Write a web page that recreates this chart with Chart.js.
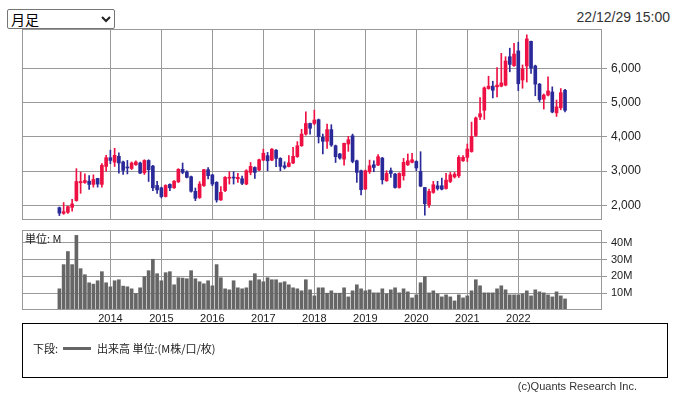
<!DOCTYPE html>
<html>
<head>
<meta charset="utf-8">
<script src="https://cdn.jsdelivr.net/npm/chart.js@4/dist/chart.umd.min.js"></script>
<style>
  body { margin: 0; width: 678px; height: 397px; background: #fff; position: relative; overflow: hidden;
         font-family: "Liberation Sans", Arial, sans-serif; color: #222; }
  #period { position: absolute; left: 7px; top: 9px; width: 108px; height: 20px; font-size: 14px; line-height: 17px;
            font-family: "Noto Sans CJK JP", sans-serif; padding: 0 3px; box-sizing: border-box;
            -webkit-appearance: none; appearance: none; border: 1px solid #767676; border-radius: 2px;
            background: #fff; color: #000; }
  #chevron { position: absolute; left: 101px; top: 16px; }
  #stamp { position: absolute; right: 8px; top: 9px; font-size: 14px; color: #333; }
  #priceBox { position: absolute; left: 22px; top: 29px; }
  #volBox { position: absolute; left: 22px; top: 230px; }
  #unit { position: absolute; left: 25px; top: 230px; font-size: 11px; font-family: "Noto Sans CJK JP", sans-serif; }
  #legend { position: absolute; left: 22px; top: 323px; width: 646px; height: 55px; border: 1px solid #000;
            box-sizing: border-box; font-size: 11px; font-family: "Noto Sans CJK JP", sans-serif; }
  #legend span { position: absolute; top: 16px; }
  #legend .swatch { position: absolute; left: 40px; top: 23px; width: 28px; height: 3px; background: #666; }
  #copy { position: absolute; right: 41px; top: 380px; font-size: 11px; color: #333; }
</style>
</head>
<body>
<select id="period"><option>月足</option></select>
<svg id="chevron" width="10" height="7"><path d="M1 1 L5 5 L9 1" fill="none" stroke="#222" stroke-width="2"/></svg>
<div id="stamp">22/12/29 15:00</div>
<div id="priceBox"><canvas id="priceChart" width="656" height="191"></canvas></div>
<div id="volBox"><canvas id="volChart" width="656" height="96"></canvas></div>
<div id="unit">単位: M</div>
<div id="legend">
  <span style="left:10px">下段:</span>
  <div class="swatch"></div>
  <span style="left:74px">出来高 単位:(M株/口/枚)</span>
</div>
<div id="copy">(c)Quants Research Inc.</div>
<script>
// monthly candles, Jan 2013 .. Dec 2022
const firstYear = 2013;
const yearLabels = ['2014', '2015', '2016', '2017', '2018', '2019', '2020', '2021', '2022'];
const priceTicks = [2000, 3000, 4000, 5000, 6000];
const volumeTicks = [10, 20, 30, 40];

const opens = [
  1930, 1765, 1795, 1940, 2137, 2657, 2665, 2705, 2610, 2785, 2610, 3135,
  3390, 3260, 3430, 3265, 3120, 3075, 3185, 3235, 2950, 3310, 3145, 2580,
  2510, 2255, 2610, 2510, 2685, 3050, 2970, 2835, 2410, 2225, 2575, 3040,
  2890, 2670, 2155, 2430, 2790, 2815, 2775, 2775, 2620, 2960, 3105, 3030,
  3320, 3450, 3320, 3610, 3370, 3155, 3135, 3235, 3420, 3740, 4080, 4390,
  4390, 4500, 3985, 3870, 4210, 3740, 3500, 3350, 3790, 4030, 3300, 3010,
  2475, 2980, 3185, 3175, 3380, 2715, 3010, 2910, 2520, 2865, 3185, 3255,
  3280, 2990, 2520, 2015, 2375, 2570, 2570, 2490, 2695, 2830, 2860, 3300,
  3400, 3570, 4040, 4580, 4775, 5410, 5480, 5460, 5480, 5510, 6340, 6080,
  6510, 5660, 6070, 6790, 6070, 5540, 5100, 5220, 5310, 4700, 4850, 5360
];
const highs = [
  1950, 2080, 1980, 2175, 3070, 2970, 2920, 2870, 2890, 2790, 3215, 3460,
  3610, 3665, 3530, 3290, 3310, 3265, 3295, 3265, 3330, 3330, 3170, 2700,
  2530, 2600, 2630, 2725, 3070, 3235, 3010, 2850, 2505, 2690, 3050, 3105,
  2900, 2690, 2545, 2835, 2980, 2980, 2930, 2850, 3040, 3250, 3125, 3350,
  3640, 3545, 3660, 3630, 3390, 3270, 3450, 3690, 3860, 4220, 4730, 4400,
  4780, 4520, 4080, 4375, 4355, 3760, 3520, 3820, 4015, 4080, 3320, 3030,
  3030, 3320, 3300, 3480, 3400, 3010, 3090, 2930, 2950, 3370, 3500, 3520,
  3300, 3565, 2520, 2475, 2700, 2700, 2795, 2930, 2960, 2960, 3450, 3450,
  3790, 4430, 4580, 5145, 5460, 5770, 5625, 6020, 6440, 6340, 6590, 6735,
  6765, 6100, 6980, 6800, 6095, 5560, 5250, 5755, 5460, 5075, 5410, 5390
];
const lows = [
  1700, 1735, 1765, 1825, 2120, 2350, 2640, 2460, 2530, 2530, 2530, 3000,
  3215, 3135, 2940, 2900, 2915, 3045, 3165, 2920, 2900, 2695, 2430, 2350,
  2215, 2240, 2430, 2490, 2665, 2920, 2800, 2380, 2135, 2200, 2550, 2770,
  2570, 2090, 2140, 2400, 2620, 2620, 2670, 2600, 2600, 2890, 2785, 3010,
  3300, 3010, 3300, 3130, 3010, 3060, 3120, 3215, 3400, 3720, 4050, 4080,
  4350, 3820, 3500, 3660, 3720, 3250, 3350, 3175, 3575, 3240, 2670, 2300,
  2455, 2930, 2980, 3160, 2620, 2700, 2815, 2500, 2500, 2735, 3160, 3240,
  3010, 2540, 1710, 1935, 2350, 2445, 2450, 2470, 2660, 2795, 2810, 3280,
  3280, 3550, 4010, 4500, 4510, 5390, 5135, 5165, 5460, 5490, 5900, 6060,
  5350, 5420, 5600, 5850, 5200, 5030, 4810, 5195, 4700, 4595, 4790, 4725
];
const closes = [
  1770, 1814, 1960, 2040, 2695, 2695, 2725, 2610, 2755, 2620, 3170, 3390,
  3310, 3460, 3235, 3020, 3090, 3235, 3265, 2940, 3310, 3040, 2510, 2450,
  2255, 2580, 2510, 2705, 3050, 2960, 2815, 2410, 2205, 2620, 3040, 2865,
  2620, 2155, 2380, 2815, 2810, 2795, 2815, 2640, 3010, 3135, 2960, 3330,
  3520, 3300, 3640, 3370, 3135, 3105, 3240, 3430, 3740, 4080, 4390, 4250,
  4490, 4005, 3870, 4210, 3760, 3420, 3380, 3810, 3915, 3280, 2960, 2455,
  3010, 3155, 3105, 3420, 2745, 2930, 2930, 2520, 2930, 3255, 3300, 3330,
  3090, 2560, 2045, 2405, 2600, 2490, 2470, 2735, 2890, 2910, 3400, 3400,
  3645, 4010, 4550, 4675, 5430, 5480, 5360, 5510, 5575, 6215, 6115, 6420,
  5550, 5990, 6860, 6010, 5540, 5085, 5220, 5340, 4725, 4875, 5290, 4775
];
// volume, millions of shares
const volumes = [
  12.6, 27, 34.8, 27, 44.4, 24.6, 21, 16.2, 15.4, 17.4, 22.8, 16.2,
  13.8, 17.4, 18, 14.2, 13.8, 12.6, 9.8, 13.2, 19.8, 23.4, 30.2, 21.6,
  17.4, 22.2, 22.8, 15, 19.2, 19, 18.6, 23.4, 18.6, 16.8, 15.6, 17.4,
  14.4, 27, 19.2, 12.6, 12, 17.4, 13.2, 12.6, 13.2, 17.4, 21.6, 18,
  16.8, 19.2, 18, 18, 16.2, 16.8, 15, 13.2, 12.6, 11.4, 18, 12,
  8.4, 13.2, 13.2, 10, 11.4, 10, 10, 13.2, 7.8, 11.4, 15, 12.6,
  11.4, 12, 10.2, 10.2, 12.6, 9.6, 12, 13.2, 10.2, 12.6, 10.8, 7.2,
  9, 16.2, 19.8, 10.2, 11.4, 9.6, 7.8, 9, 7.8, 5.4, 9, 7.2,
  8.4, 11.4, 18, 14.4, 10.2, 10.2, 10.2, 12.6, 14.4, 12, 9, 9,
  9, 9.6, 11.4, 8.4, 12, 10.8, 10.2, 9, 7.8, 10.8, 8.4, 6.6
];

const upColor = '#ee1144';
const downColor = '#2b2a99';
const gridColor = '#999';
const xMin = -8.8, xMax = 127.7;

const candleColor = ctx => closes[ctx.dataIndex] >= opens[ctx.dataIndex] ? upColor : downColor;
const idx = opens.map((_, i) => i);

const framePlugin = {
  id: 'frame',
  afterDraw(chart) {
    const { ctx, chartArea: a } = chart;
    ctx.save();
    ctx.strokeStyle = gridColor;
    ctx.lineWidth = 1;
    ctx.strokeRect(a.left + 0.5, a.top + 0.5, a.width - 1, a.height - 1);
    ctx.restore();
  }
};

function yearAxis(showLabels) {
  return {
    type: 'linear',
    min: xMin,
    max: xMax,
    offset: false,
    grid: { color: gridColor, drawTicks: false, offset: false },
    border: { display: false },
    afterBuildTicks: scale => { scale.ticks = yearLabels.map((_, k) => ({ value: 12 * (k + 1) })); },
    afterFit: scale => { scale.height = showLabels ? 16 : 0; scale.paddingLeft = 0; scale.paddingRight = 0; },
    ticks: {
      display: showLabels,
      padding: 2,
      maxRotation: 0,
      autoSkip: false,
      color: '#222',
      font: { size: 11, family: '"Liberation Sans", Arial, sans-serif' },
      callback: (v, k) => yearLabels[k]
    }
  };
}

function valueAxis(min, max, tickValues, fmt, fontSize) {
  return {
    position: 'right',
    min: min,
    max: max,
    grid: { color: gridColor, tickLength: 5, drawTicks: true },
    border: { display: false },
    afterBuildTicks: scale => { scale.ticks = tickValues.map(v => ({ value: v })); },
    afterFit: scale => { scale.width = 76; scale.paddingTop = 0; scale.paddingBottom = 0; },
    ticks: {
      padding: 4,
      color: '#222',
      font: { size: fontSize, family: '"Liberation Sans", Arial, sans-serif' },
      callback: fmt
    }
  };
}

const common = {
  responsive: false,
  maintainAspectRatio: false,
  animation: false,
  devicePixelRatio: 1,
  layout: { padding: 0 },
  plugins: { legend: { display: false }, tooltip: { enabled: false } }
};

new Chart(document.getElementById('priceChart'), {
  type: 'bar',
  data: {
    datasets: [{
      data: idx.map(i => ({ x: i, y: [lows[i], highs[i]] })),
      backgroundColor: candleColor,
      barThickness: 1,
      grouped: false
    }, {
      data: idx.map(i => ({ x: i, y: [opens[i], closes[i]] })),
      backgroundColor: candleColor,
      barThickness: 3,
      minBarLength: 1,
      grouped: false
    }]
  },
  options: Object.assign({}, common, {
    scales: {
      x: yearAxis(false),
      y: valueAxis(1570, 7150, priceTicks, v => v.toLocaleString('en-US'), 12)
    }
  }),
  plugins: [framePlugin]
});

new Chart(document.getElementById('volChart'), {
  type: 'bar',
  data: {
    datasets: [{
      data: idx.map(i => ({ x: i, y: volumes[i] })),
      backgroundColor: '#666',
      barThickness: 3,
      grouped: false
    }]
  },
  options: Object.assign({}, common, {
    scales: {
      x: yearAxis(true),
      y: valueAxis(0, 47.6, volumeTicks, v => v + 'M', 11)
    }
  }),
  plugins: [framePlugin]
});
</script>
</body>
</html>
